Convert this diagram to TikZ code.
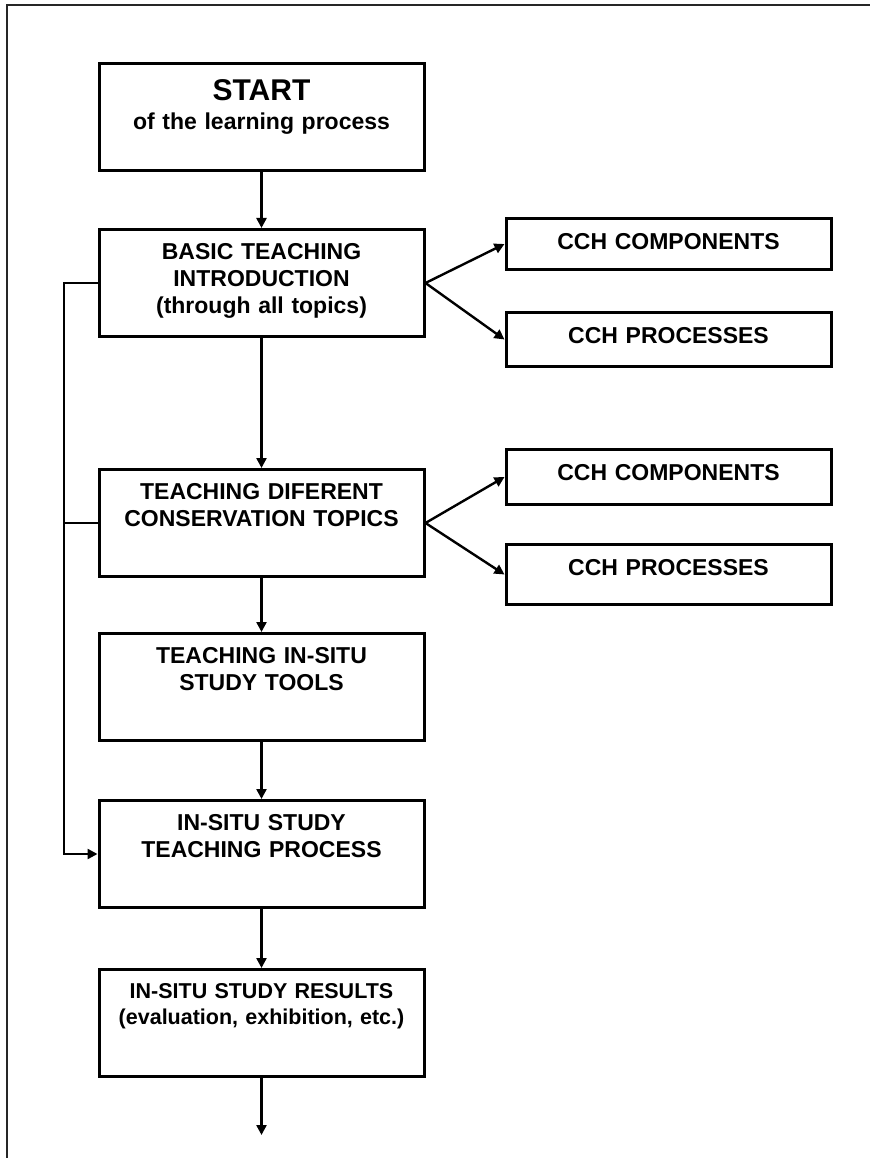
\documentclass[tikz,border=0pt]{standalone}
\usepackage{fontspec}
\setmainfont{Liberation Sans}
\usetikzlibrary{arrows.meta}
\tikzset{
  stage/.style = {draw, line width = 3pt, anchor = north, text width = 305pt,
    inner xsep = 10pt, inner ysep = 0pt, align = center, text height = 30pt,
    text depth = 77pt, font = \bfseries\fontsize{23}{27}\selectfont},
  part/.style = {stage, text height = 31pt},
  flow/.style = {line width = 2.4pt, -{Triangle[length = 10pt, width = 10pt]}},
  link/.style = {line width = 2.4pt}
}
\begin{document}
\begin{tikzpicture}[x = 1pt, y = -1pt]
  \useasboundingbox (0, 0) rectangle (870, 1158);
  \draw [line width = 2pt, black!85] (7, 1158) -- (7, 5) -- (870, 5);

  \node [stage, text height = 37pt, text depth = 70pt] (start) at (261.5, 62)
    {{\fontsize{30}{30}\selectfont START}\\[2pt] of the learning process};
  \node [stage] (basic) at (261.5, 228) {BASIC TEACHING\\ INTRODUCTION\\ (through all topics)};
  \node [stage] (topics) at (261.5, 468) {TEACHING DIFERENT\\ CONSERVATION TOPICS};
  \node [stage] (tools) at (261.5, 632) {TEACHING IN-SITU\\ STUDY TOOLS};
  \node [stage] (practice) at (261.5, 799) {IN-SITU STUDY\\ TEACHING PROCESS};
  \node [stage, text height = 29pt, text depth = 78pt,
    font = \bfseries\fontsize{21.5}{26}\selectfont] (results) at (261.5, 968)
    {IN-SITU STUDY RESULTS\\ (evaluation, exhibition, etc.)};

  \node [part, text depth = 20pt] (components1) at (668.5, 217) {CCH COMPONENTS};
  \node [part, text depth = 23pt] (processes1) at (668.5, 311) {CCH PROCESSES};
  \node [part, text depth = 24pt] (components2) at (668.5, 448) {CCH COMPONENTS};
  \node [part, text depth = 29pt] (processes2) at (668.5, 543) {CCH PROCESSES};

  \coordinate (bus) at (64, 281);
  \coordinate (next) at (261.5, 1135);

  \draw [flow] (start) -- (basic);
  \draw [flow] (basic) -- (topics);
  \draw [flow] (topics) -- (tools);
  \draw [flow] (tools) -- (practice);
  \draw [flow] (practice) -- (results);
  \draw [flow] (results) -- (next);
  \draw [flow] (basic.east) -- (components1.west);
  \draw [flow] (basic.east) -- (processes1.west);
  \draw [flow] (topics.east) -- (components2.west);
  \draw [flow] (topics.east) -- (processes2.west);
  \draw [flow] (basic.west) -- (basic.west -| bus) |- (practice.west);
  \draw [link] (topics.west) -- (topics.west -| bus);
\end{tikzpicture}
\end{document}
